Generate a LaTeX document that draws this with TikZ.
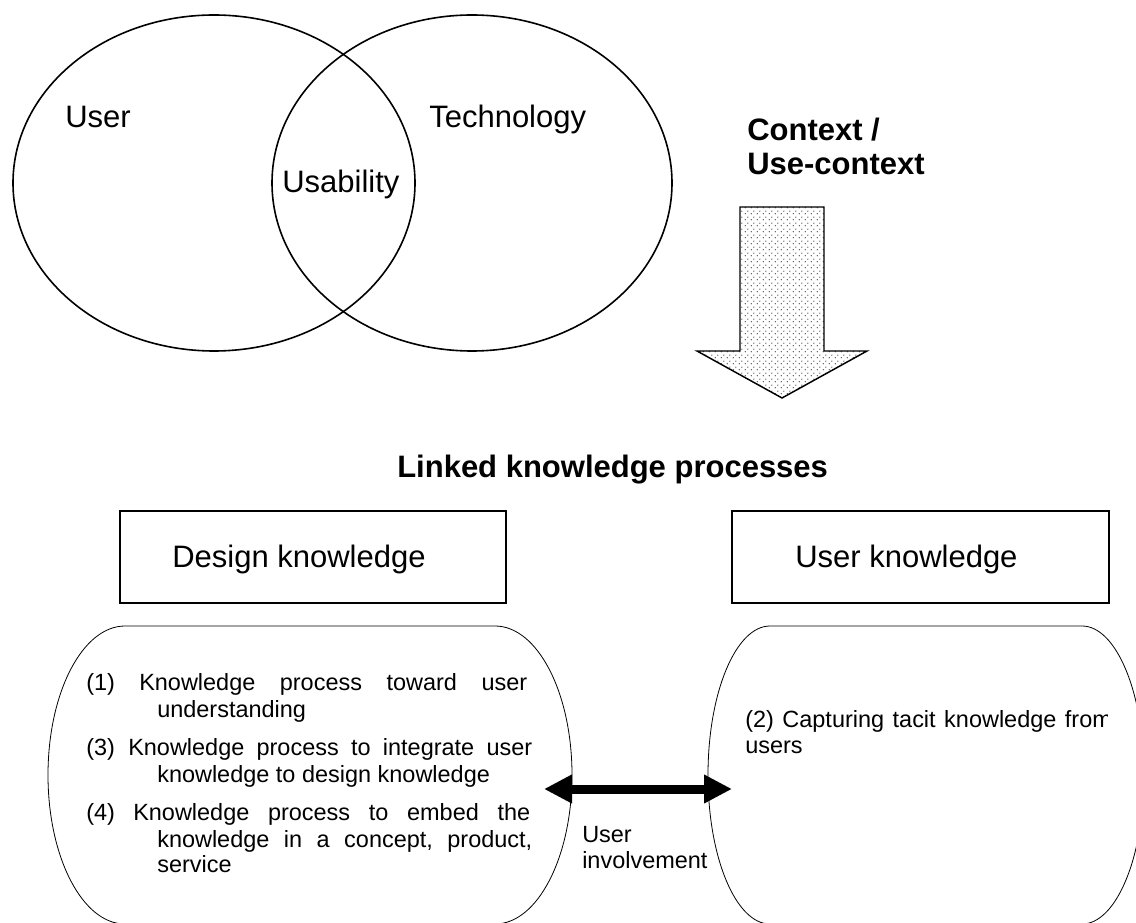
\documentclass[tikz,border=0pt]{standalone}
\usepackage{fontspec}
\setmainfont{Liberation Sans}
\usetikzlibrary{arrows.meta,patterns.meta}

\tikzdeclarepattern{
  name=arrowdots, type=uncolored,
  bounding box={(0,0) and (4.5pt,4.5pt)},
  tile size={(4.5pt,4.5pt)},
  code={\fill (1.1pt,1.1pt) circle (0.55pt); \fill (3.35pt,3.35pt) circle (0.55pt);}
}

\tikzset{
  big/.style={font=\fontsize{23.25pt}{28pt}\selectfont, inner sep=0pt, anchor=base west},
  bigb/.style={font=\fontsize{23.25pt}{28pt}\selectfont\bfseries, inner sep=0pt, anchor=base west},
  small/.style={font=\fontsize{17.6pt}{20pt}\selectfont, inner sep=0pt, anchor=base west},
  venn/.style={draw, line width=1.2pt},
  kbox/.style={draw, line width=0.8pt},
  term/.style={draw, line width=0.6pt},
  ctxarrow/.style={draw, line width=1.1pt, preaction={fill=white}, pattern=arrowdots, pattern color=black!80},
  dblarrow/.style={line width=6.75pt, {Triangle[length=21pt,width=20.25pt]}-{Triangle[length=21pt,width=20.25pt]}}
}

\begin{document}
\begin{tikzpicture}[x=0.75pt,y=-0.75pt]
\useasboundingbox (0,0) rectangle (1136,923);
\clip (0,0) rectangle (1136,923);

% Venn diagram
\draw[venn] (214,183) ellipse (201 and 168);
\draw[venn] (472,183) ellipse (200 and 168);
\node[big] (user) at (65,128) {User};
\node[big] (tech) at (429,128) {Technology};
\node[big] (usab) at (282,193) {Usability};

% Context label and arrow
\node[bigb] (ctx1) at (747,141) {Context /};
\node[bigb] (ctx2) at (747,175) {Use-context};
\path[ctxarrow] (740,207) -- (824,207) -- (824,351) -- (867,351) -- (782,398) -- (697,351) -- (740,351) -- cycle;

% Title
\node[bigb] (title) at (397,478) {Linked knowledge processes};

% Boxes
\draw[kbox] (120,511) rectangle (506,603);
\draw[kbox] (732,511) rectangle (1109,603);
\node[big] (dk) at (172,568) {Design knowledge};
\node[big] (uk) at (795,568) {User knowledge};

% Terminator shapes
\draw[term] (125,626) -- (495,626) .. controls (537.5,626) and (572,692.7) .. (572,775)
  .. controls (572,857.3) and (537.5,924) .. (495,924) -- (125,924)
  .. controls (82.5,924) and (48,857.3) .. (48,775)
  .. controls (48,692.7) and (82.5,626) .. (125,626) -- cycle;
\draw[term] (770,626) -- (1082,626) .. controls (1116.2,626) and (1144,692.7) .. (1144,775)
  .. controls (1144,857.3) and (1116.2,924) .. (1082,924) -- (770,924)
  .. controls (735.8,924) and (708,857.3) .. (708,775)
  .. controls (708,692.7) and (735.8,626) .. (770,626) -- cycle;

% Left texts
\node[small] (n1) at (86,690) {(1)};
\node[small] (l1) at (139,690) {\hbox to 291pt{Knowledge\hfil process\hfil toward\hfil user}};
\node[small] (l1b) at (157,717) {understanding};
\node[small] (n3) at (86,755) {(3)};
\node[small] (l3) at (128,755) {\hbox to 303pt{Knowledge\hfil process\hfil to\hfil integrate\hfil user}};
\node[small] (l3b) at (157,782) {knowledge to design knowledge};
\node[small] (n4) at (86,820) {(4)};
\node[small] (l4) at (133,820) {\hbox to 297.75pt{Knowledge\hfil process\hfil to\hfil embed\hfil the}};
\node[small] (l4b) at (157,847) {\hbox to 281.25pt{knowledge\hfil in\hfil a\hfil concept,\hfil product,}};
\node[small] (l4c) at (157,872) {service};

% Right texts
\begin{scope}
\clip (700,690) rectangle (1107,740);
\node[small] (r2) at (745,727) {\hbox to 275pt{(2)\hfil Capturing\hfil tacit\hfil knowledge\hfil from}};
\end{scope}
\node[small] (r2b) at (745,753) {users};

% User involvement
\coordinate (al) at (544,789);
\coordinate (ar) at (732,789);
\draw[dblarrow] (al) -- (ar);
\node[small] (ui1) at (582,842) {User};
\node[small] (ui2) at (582,868) {involvement};
\end{tikzpicture}
\end{document}
